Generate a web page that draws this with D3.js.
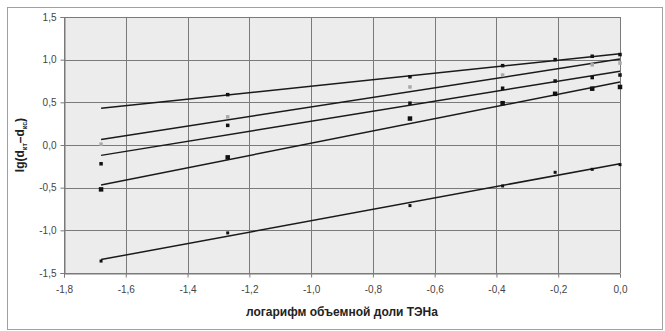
<!DOCTYPE html>
<html>
<head>
<meta charset="utf-8">
<script src="https://cdn.jsdelivr.net/npm/d3@7"></script>
<style>
  body { margin: 0; background: #fff; }
  text { font-family: "Liberation Sans", Arial, sans-serif; }
</style>
</head>
<body>
<div id="chart"></div>
<script>
// measured x positions (log of volume fraction)
var xVals = [-1.68, -1.27, -0.68, -0.38, -0.21, -0.09, 0.0];

// series values, null where no point is visible
var s1 = [null, 0.59, 0.80, 0.93, 1.00, 1.04, 1.06];
var s2 = [0.01, 0.33, 0.68, 0.82, null, 0.94, 0.96];
var s3 = [-0.22, 0.23, 0.49, 0.665, 0.75, 0.79, 0.82];
var s4 = [-0.52, -0.145, 0.31, 0.49, 0.60, 0.66, 0.68];
var s5 = [-1.36, -1.03, -0.71, -0.48, -0.32, -0.285, -0.23];

var xTicks = [-1.8, -1.6, -1.4, -1.2, -1.0, -0.8, -0.6, -0.4, -0.2, 0.0];
var yTicks = [-1.5, -1.0, -0.5, 0.0, 0.5, 1.0, 1.5];

var series = [
  { vals: s1, color: "#111", size: 3.5 },
  { vals: s2, color: "#aaa", size: 3.5 },
  { vals: s3, color: "#111", size: 3.5 },
  { vals: s4, color: "#111", size: 4.5 },
  { vals: s5, color: "#111", size: 3 }
];

var width = 665, height = 331;
var plot = { left: 64, right: 620, top: 17, bottom: 273 };

var svg = d3.select("#chart").append("svg")
  .attr("width", width)
  .attr("height", height);

// outer frame
svg.append("rect")
  .attr("x", 7.5).attr("y", 7.5)
  .attr("width", 655).attr("height", 322)
  .attr("fill", "#fff")
  .attr("stroke", "#a0a0a0");

var x = d3.scaleLinear().domain([-1.8, 0]).range([plot.left, plot.right]);
var y = d3.scaleLinear().domain([-1.5, 1.5]).range([plot.bottom, plot.top]);

svg.append("rect")
  .attr("x", plot.left).attr("y", plot.top)
  .attr("width", plot.right - plot.left)
  .attr("height", plot.bottom - plot.top)
  .attr("fill", "#ececec");

// grid
svg.append("g").selectAll("line.gx")
  .data(xTicks).enter().append("line")
  .attr("x1", d => Math.round(x(d)) + 0.5).attr("x2", d => Math.round(x(d)) + 0.5)
  .attr("y1", plot.top).attr("y2", plot.bottom)
  .attr("stroke", "#7a7a7a");
svg.append("g").selectAll("line.gy")
  .data(yTicks).enter().append("line")
  .attr("x1", plot.left).attr("x2", plot.right)
  .attr("y1", d => Math.round(y(d)) + 0.5).attr("y2", d => Math.round(y(d)) + 0.5)
  .attr("stroke", "#7a7a7a");

var fmt = d => d3.format(".1f")(d).replace(".", ",").replace("−", "-");

var xAxis = svg.append("g")
  .attr("transform", "translate(0," + (plot.bottom + 0.5) + ")")
  .call(d3.axisBottom(x).tickValues(xTicks).tickSize(4).tickFormat(fmt));
var yAxis = svg.append("g")
  .attr("transform", "translate(" + (plot.left + 0.5) + ",0)")
  .call(d3.axisLeft(y).tickValues(yTicks).tickSize(4).tickFormat(fmt));

[xAxis, yAxis].forEach(function (g) {
  g.select(".domain").attr("stroke", "#7a7a7a");
  g.selectAll(".tick line").attr("stroke", "#7a7a7a");
  g.selectAll(".tick text")
    .attr("fill", "#444")
    .style("font-size", "10px")
    .style("font-family", "'Liberation Sans', Arial, sans-serif");
});
xAxis.selectAll(".tick text").attr("dy", "1.2em");
yAxis.selectAll(".tick text").attr("x", -8);

// linear trend lines (least squares) from x = -1.68 to 0
function fit(vals) {
  var pts = xVals.map((xv, i) => [xv, vals[i]]).filter(p => p[1] !== null);
  var mx = d3.mean(pts, p => p[0]), my = d3.mean(pts, p => p[1]);
  var sxy = d3.sum(pts, p => (p[0] - mx) * (p[1] - my));
  var sxx = d3.sum(pts, p => (p[0] - mx) * (p[0] - mx));
  var b = sxy / sxx;
  return xv => my + b * (xv - mx);
}

var line = d3.line().x(d => x(d[0])).y(d => y(d[1]));
var xExt = d3.extent(xVals);

series.forEach(function (s) {
  var f = fit(s.vals);
  svg.append("path")
    .datum(xExt.map(xv => [xv, f(xv)]))
    .attr("d", line)
    .attr("fill", "none")
    .attr("stroke", "#1a1a1a")
    .attr("stroke-width", 1.5);
});

series.forEach(function (s) {
  var pts = xVals.map((xv, i) => [xv, s.vals[i]]).filter(p => p[1] !== null);
  svg.append("g").selectAll("rect")
    .data(pts).enter().append("rect")
    .attr("x", d => x(d[0]) - s.size / 2)
    .attr("y", d => y(d[1]) - s.size / 2)
    .attr("width", s.size).attr("height", s.size)
    .attr("fill", s.color);
});

// axis titles
svg.append("text")
  .attr("x", (plot.left + plot.right) / 2)
  .attr("y", 316)
  .attr("text-anchor", "middle")
  .style("font-size", "12px")
  .style("font-weight", "bold")
  .attr("fill", "#222")
  .text("логарифм объемной доли ТЭНа");

var yl = svg.append("text")
  .attr("transform", "translate(24," + ((plot.top + plot.bottom) / 2) + ") rotate(-90)")
  .attr("text-anchor", "middle")
  .style("font-size", "12px")
  .style("font-weight", "bold")
  .attr("fill", "#222");
yl.append("tspan").text("lg(d");
yl.append("tspan").attr("dy", 3).style("font-size", "7px").text("кт");
yl.append("tspan").attr("dy", -3).text("–d");
yl.append("tspan").attr("dy", 3).style("font-size", "7px").text("кс");
yl.append("tspan").attr("dy", -3).text(")");
</script>
</body>
</html>
